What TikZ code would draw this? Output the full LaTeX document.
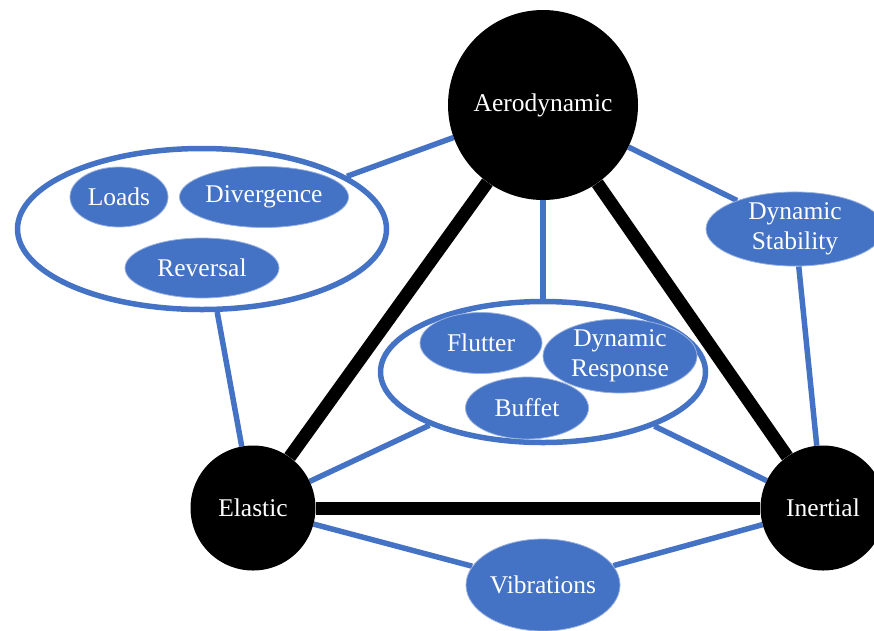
\documentclass[tikz,border=0pt]{standalone}
\usepackage{fontspec}
\setmainfont{Liberation Serif}
\usetikzlibrary{shapes.geometric,backgrounds}
\definecolor{accent}{HTML}{4472C4}
\begin{document}
\begin{tikzpicture}[x=1pt,y=-1pt,
  lbl/.style={font=\fontsize{25.5}{30}\selectfont, text=white, align=center},
  hub/.style={circle, fill=black, inner sep=0pt, lbl},
  topic/.style={ellipse, fill=accent, draw=accent!55!white, line width=0.8pt, inner sep=0pt, lbl},
  group/.style={ellipse, draw=accent, fill=white, line width=5.5pt, inner sep=0pt},
  strong/.style={line width=13pt, black},
  weak/.style={line width=5.5pt, accent}]
\useasboundingbox (0,0) rectangle (874,630);
\clip (0,0) rectangle (874,630);

% main hubs
\node[hub, minimum size=190] (aero) at (543,105) {Aerodynamic};
\node[hub, minimum size=125] (elas) at (253,508) {Elastic};
\node[hub, minimum size=125] (iner) at (823,508) {Inertial};

% static group
\node[group, minimum width=369, minimum height=161] (static) at (202,229) {};
\node[topic, minimum width=98, minimum height=60] (loads) at (119,197) {Loads};
\node[topic, minimum width=169, minimum height=61] (div) at (264,197) {Divergence};
\node[topic, minimum width=154, minimum height=60] (rev) at (202,268) {Reversal};

% dynamic group
\node[group, minimum width=325, minimum height=141] (dyn) at (543,372) {};
\node[topic, minimum width=122, minimum height=61] (flut) at (481,343) {Flutter};
\node[topic, minimum width=154, minimum height=62] (resp) at (620,356) {Dynamic\\Response};
\node[topic, minimum width=123, minimum height=62] (buff) at (527,408) {Buffet};

% single topics
\node[topic, minimum width=178, minimum height=62] (stab) at (795,229) {Dynamic\\Stability};
\node[topic, minimum width=154, minimum height=92] (vib) at (543,585) {Vibrations};

\begin{scope}[on background layer]
  \draw[strong] (aero) -- (elas);
  \draw[strong] (aero) -- (iner);
  \draw[strong] (elas) -- (iner);
  \draw[weak] (aero) -- (static);
  \draw[weak] (aero) -- (dyn);
  \draw[weak] (aero) -- (stab);
  \draw[weak] (stab) -- (iner);
  \draw[weak] (static) -- (elas);
  \draw[weak] (dyn) -- (elas);
  \draw[weak] (dyn) -- (iner);
  \draw[weak] (elas) -- (vib);
  \draw[weak] (vib) -- (iner);
\end{scope}
\end{tikzpicture}
\end{document}
